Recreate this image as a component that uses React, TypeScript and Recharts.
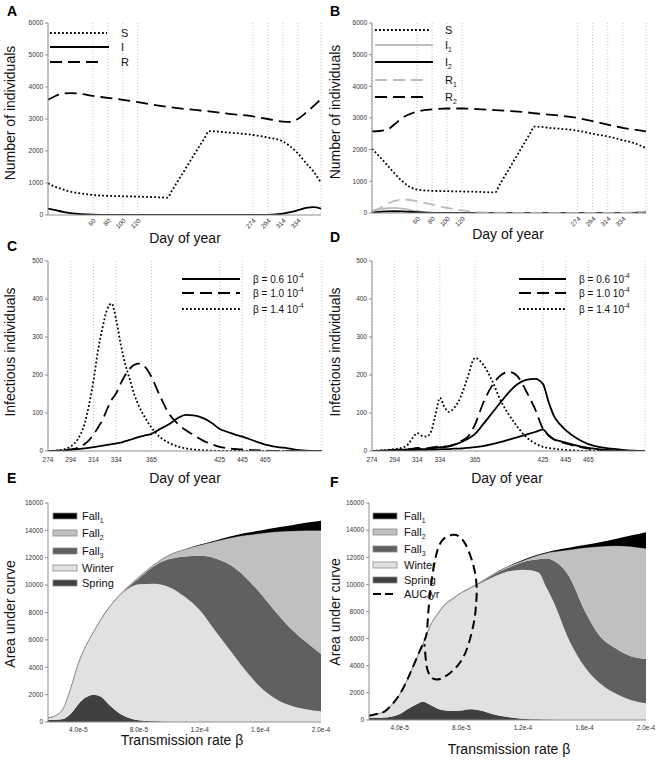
import React from 'react';
import { ComposedChart, Line, Area, XAxis, YAxis, CartesianGrid } from 'recharts';

const FONT = "'Liberation Sans', Arial, Helvetica, sans-serif";
const AXIS = '#8f8f8f';
const GRID = '#c4c4c4';
const DOT = '1.8 2.2';
const DASH = '12 6';
const GRAY = '#bdbdbd';

// ---------- Panel A ----------
const daysA = [0, 10, 20, 30, 45, 60, 80, 100, 120, 140, 160, 165, 185, 200, 210, 215, 240, 274, 294, 314, 324, 334, 345, 355, 365];
const susA = [990, 880, 800, 730, 670, 625, 600, 585, 575, 560, 545, 735, 1490, 2060, 2430, 2620, 2580, 2500, 2420, 2300, 2140, 1930, 1620, 1360, 1010];
const infA = [200, 150, 100, 60, 25, 8, 2, 0, 0, 0, 0, 0, 0, 0, 0, 0, 0, 0, 5, 40, 90, 150, 220, 245, 200];
const recA = [3600, 3720, 3790, 3810, 3780, 3720, 3660, 3600, 3530, 3450, 3380, 3365, 3310, 3275, 3250, 3240, 3170, 3080, 3000, 2920, 2910, 3000, 3200, 3400, 3620];

// ---------- Panel B ----------
const daysB = [0, 10, 20, 30, 40, 50, 60, 80, 100, 120, 140, 164, 170, 190, 205, 212, 216, 240, 274, 294, 314, 334, 350, 365];
const susB = [2030, 1780, 1520, 1250, 1010, 830, 740, 700, 690, 680, 670, 650, 890, 1690, 2290, 2570, 2730, 2680, 2600, 2500, 2420, 2300, 2200, 2050];
const i1B = [60, 110, 150, 160, 140, 100, 60, 15, 3, 0, 0, 0, 0, 0, 0, 0, 0, 0, 0, 0, 0, 0, 10, 40];
const i2B = [20, 35, 50, 55, 50, 40, 25, 5, 0, 0, 0, 0, 0, 0, 0, 0, 0, 0, 0, 0, 0, 0, 5, 10];
const r1B = [50, 150, 280, 380, 420, 410, 370, 270, 160, 80, 30, 10, 8, 3, 1, 0, 0, 0, 0, 0, 0, 5, 20, 50];
const r2B = [2580, 2590, 2630, 2800, 3000, 3120, 3200, 3270, 3300, 3300, 3280, 3250, 3240, 3210, 3180, 3165, 3150, 3100, 3000, 2900, 2790, 2690, 2630, 2580];

const dayTicksAB = [60, 80, 100, 120, 274, 294, 314, 334];

// ---------- Panels C, D ----------
const daysCD = [274, 284, 294, 300, 306, 310, 314, 318, 322, 326, 330, 334, 338, 342, 346, 350, 354, 358, 365, 372, 380, 388, 395, 402, 410, 418, 425, 430, 435, 440, 445, 455, 465, 475, 485, 495, 505, 515];
const cHigh = [0, 2, 12, 30, 70, 120, 185, 265, 325, 372, 388, 345, 280, 228, 188, 148, 118, 95, 62, 38, 22, 12, 7, 4, 2, 1, 0, 0, 0, 0, 0, 0, 0, 0, 0, 0, 0, 0];
const cMid = [0, 1, 4, 8, 18, 28, 43, 62, 82, 110, 135, 152, 178, 200, 217, 227, 230, 225, 195, 148, 100, 72, 55, 42, 28, 18, 11, 8, 6, 5, 4, 2, 1, 0, 0, 0, 0, 0];
const cLow = [0, 1, 3, 5, 7, 8, 10, 12, 14, 16, 18, 20, 22, 26, 29, 33, 37, 40, 45, 57, 70, 86, 95, 94, 87, 74, 58, 52, 47, 42, 38, 27, 17, 11, 7, 2, 0, 0];
const dHigh = [0, 2, 5, 8, 18, 35, 47, 40, 38, 50, 95, 140, 115, 103, 112, 128, 155, 190, 245, 228, 185, 130, 95, 65, 37, 20, 11, 8, 6, 4, 3, 1, 0, 0, 0, 0, 0, 0];
const dMid = [0, 1, 3, 4, 5, 6, 8, 7, 7, 9, 11, 13, 12, 13, 16, 22, 28, 36, 70, 125, 172, 200, 208, 198, 158, 110, 58, 42, 30, 24, 20, 12, 6, 3, 1, 0, 0, 0];
const dLow = [0, 1, 2, 3, 4, 5, 7, 5, 5, 6, 8, 10, 10, 12, 16, 20, 25, 31, 45, 70, 100, 130, 155, 175, 187, 190, 176, 128, 90, 70, 55, 33, 18, 10, 6, 3, 1, 0];
const dLow2 = [0, 0, 1, 1, 2, 2, 3, 3, 3, 4, 4, 5, 5, 5, 6, 6, 7, 8, 10, 13, 18, 24, 30, 36, 43, 50, 56, 40, 30, 26, 22, 14, 8, 4, 2, 0, 0, 0];
const dayTicksCD = [274, 294, 314, 334, 365, 425, 445, 465];

// ---------- Panel E ----------
const betaE = [2.0e-5, 2.5e-5, 3.0e-5, 3.5e-5, 4.0e-5, 4.5e-5, 5.0e-5, 5.5e-5, 6.0e-5, 6.5e-5, 7.0e-5, 8.0e-5, 9.0e-5, 1.0e-4, 1.1e-4, 1.2e-4, 1.3e-4, 1.4e-4, 1.5e-4, 1.6e-4, 1.7e-4, 1.8e-4, 1.9e-4, 2.0e-4];
const springE = [150, 170, 220, 600, 1300, 1800, 2000, 1850, 1300, 800, 450, 120, 50, 20, 5, 0, 0, 0, 0, 0, 0, 0, 0, 0];
const winterE = [130, 270, 730, 1850, 2950, 3750, 4550, 5650, 7000, 8150, 9050, 9940, 10050, 9830, 9155, 8180, 6700, 5250, 3800, 2560, 1700, 1200, 930, 780];
const fall3E = [20, 20, 20, 20, 20, 20, 20, 20, 30, 40, 60, 440, 1300, 2050, 2940, 3960, 5270, 6230, 6800, 6840, 6360, 5640, 4930, 4180];
const fall2E = [10, 10, 10, 10, 10, 10, 10, 10, 10, 20, 30, 100, 100, 300, 500, 780, 1220, 1970, 3040, 4380, 5840, 7110, 8140, 9040];
const fall1E = [0, 0, 0, 0, 0, 0, 0, 0, 0, 0, 0, 0, 0, 0, 0, 30, 60, 100, 160, 220, 300, 400, 550, 700];

// ---------- Panel F ----------
const betaF = [2.0e-5, 2.5e-5, 3.0e-5, 3.5e-5, 4.0e-5, 4.5e-5, 5.0e-5, 5.5e-5, 6.0e-5, 6.5e-5, 7.0e-5, 7.5e-5, 8.0e-5, 8.5e-5, 9.0e-5, 1.0e-4, 1.1e-4, 1.2e-4, 1.3e-4, 1.35e-4, 1.4e-4, 1.5e-4, 1.6e-4, 1.7e-4, 1.8e-4, 1.9e-4, 2.0e-4];
const springF = [150, 160, 180, 260, 450, 800, 1100, 1350, 1100, 820, 700, 680, 700, 790, 760, 450, 220, 100, 50, 30, 20, 0, 0, 0, 0, 0, 0];
const winterF = [150, 270, 420, 870, 1430, 2160, 3160, 4190, 5840, 7020, 7840, 8260, 8640, 8850, 9180, 10050, 10730, 10980, 10850, 9820, 8680, 5900, 3940, 2710, 1970, 1480, 1230];
const fall3F = [10, 10, 10, 10, 10, 20, 20, 30, 30, 30, 30, 30, 30, 30, 30, 150, 250, 570, 950, 2050, 3050, 4700, 4160, 3490, 3330, 3220, 3270];
const fall2F = [10, 10, 10, 10, 10, 20, 20, 30, 30, 30, 30, 30, 30, 30, 30, 50, 100, 100, 300, 400, 650, 1950, 4600, 6600, 7550, 8100, 8150];
const fall1F = [0, 0, 0, 0, 0, 0, 0, 0, 0, 0, 0, 0, 0, 0, 0, 0, 0, 50, 50, 50, 100, 150, 200, 300, 500, 800, 1200];
const aucBeta = [2.0e-5, 2.5e-5, 3.0e-5, 3.5e-5, 4.0e-5, 4.5e-5, 5.0e-5, 5.5e-5, 5.75e-5, 5.85e-5, 6.05e-5, 6.35e-5, 6.8e-5, 7.5e-5, 7.95e-5, 8.3e-5, 8.65e-5, 8.9e-5, 9.0e-5, 8.95e-5, 8.8e-5, 8.35e-5, 7.8e-5, 7.25e-5, 6.6e-5, 6.1e-5, 5.8e-5, 5.68e-5, 5.6e-5];
const aucVal = [320, 450, 620, 1150, 1900, 3000, 4300, 5600, 6400, 7900, 10100, 12100, 13300, 13650, 13450, 12900, 11900, 10800, 9600, 8400, 7100, 5200, 4060, 3450, 3020, 3100, 3700, 4600, 5600];
const betaTicks = [4e-5, 8e-5, 1.2e-4, 1.6e-4, 2e-4];
const betaTickLabels = ['4.0e-5', '8.0e-5', '1.2e-4', '1.6e-4', '2.0e-4'];

const rowsOf = (xKey: string, xs: number[], cols: Record<string, number[]>) =>
  xs.map((x, i) => {
    const r: Record<string, number> = { [xKey]: x };
    Object.keys(cols).forEach((k) => { r[k] = cols[k][i]; });
    return r;
  });

const rowsA = rowsOf('day', daysA, { S: susA, I: infA, R: recA });
const rowsB = rowsOf('day', daysB, { S: susB, I1: i1B, I2: i2B, R1: r1B, R2: r2B });
const rowsC = rowsOf('day', daysCD, { lo: cLow, mid: cMid, hi: cHigh });
const rowsD = rowsOf('day', daysCD, { lo: dLow, lo2: dLow2, mid: dMid, hi: dHigh });
const rowsE = rowsOf('beta', betaE, { spring: springE, winter: winterE, fall3: fall3E, fall2: fall2E, fall1: fall1E });
const rowsF = rowsOf('beta', betaF, { spring: springF, winter: winterF, fall3: fall3F, fall2: fall2F, fall1: fall1F });
const rowsAuc = rowsOf('beta', aucBeta, { auc: aucVal });

const betaFmt = (v: number) => {
  const i = betaTicks.findIndex((t) => Math.abs(t - v) < 1e-9);
  return i >= 0 ? betaTickLabels[i] : String(v);
};

const YW = 30;
const XH = 25;
const tickFont = { fontSize: 6.5, fill: '#333', fontFamily: FONT };

type PanelProps = {
  left: number; top: number; width: number; height: number; plot: number[];
  rows: any[]; xKey: string; xDomain: number[]; xTicks: number[];
  xFmt?: (v: number) => string; rotate?: boolean; xMargin: number;
  yDomain: number[]; yTicks: number[]; grid?: boolean; children: React.ReactNode;
};

function Panel(p: PanelProps) {
  const [x0, y0, x1, y1] = p.plot;
  const margin = {
    left: x0 - p.left - YW,
    top: y0 - p.top,
    right: p.left + p.width - x1,
    bottom: p.top + p.height - y1 - XH,
  };
  const xt = p.rotate ? { ...tickFont, angle: -45, textAnchor: 'end' } : tickFont;
  return (
    <div style={{ position: 'absolute', left: p.left, top: p.top, width: p.width, height: p.height }}>
      <ComposedChart width={p.width} height={p.height} data={p.rows} margin={margin}>
        {p.grid && <CartesianGrid horizontal={false} stroke={GRID} strokeDasharray="1 2" />}
        <XAxis dataKey={p.xKey} type="number" domain={p.xDomain} ticks={p.xTicks} interval={0}
          allowDataOverflow height={XH} stroke={AXIS} tickLine={false} tickSize={0}
          tickMargin={p.xMargin} tickFormatter={p.xFmt} tick={xt as any} />
        <XAxis xAxisId="top" orientation="top" dataKey={p.xKey} type="number" domain={p.xDomain}
          allowDataOverflow height={0} stroke={AXIS} tick={false} tickLine={false} />
        <YAxis type="number" domain={p.yDomain} ticks={p.yTicks} interval={0} width={YW}
          stroke={AXIS} tickSize={3} tickMargin={2} tick={tickFont} allowDataOverflow />
        <YAxis yAxisId="right" orientation="right" type="number" domain={p.yDomain} width={0}
          stroke={AXIS} tick={false} tickLine={false} />
        {p.children}
      </ComposedChart>
    </div>
  );
}

const line = (key: string, color: string, dash?: string, w = 1.8, data?: any[], type: any = 'monotone') => (
  <Line key={key} data={data} dataKey={key} type={type} stroke={color} strokeWidth={w}
    strokeDasharray={dash} dot={false} activeDot={false} isAnimationActive={false} />
);

const area = (key: string, fill: string, stroke = 'none', sw = 0) => (
  <Area key={key} dataKey={key} stackId="auc" type="monotone" fill={fill} fillOpacity={1}
    stroke={stroke} strokeWidth={sw} dot={false} activeDot={false} isAnimationActive={false} />
);

const AREA_COLORS = { fall1: '#000000', fall2: '#c0c0c0', fall3: '#606060', winter: '#e1e1e1', spring: '#404040' };
const areaLegend = [
  { base: 'Fall', sub: '1', fill: AREA_COLORS.fall1 },
  { base: 'Fall', sub: '2', fill: AREA_COLORS.fall2 },
  { base: 'Fall', sub: '3', fill: AREA_COLORS.fall3 },
  { base: 'Winter', sub: '', fill: AREA_COLORS.winter },
  { base: 'Spring', sub: '', fill: AREA_COLORS.spring },
];
const betaLegend = [
  { label: '\u03b2 = 0.6 10', dash: undefined },
  { label: '\u03b2 = 1.0 10', dash: DASH },
  { label: '\u03b2 = 1.4 10', dash: DOT },
];

function YTitle({ x, y, text }: { x: number; y: number; text: string }) {
  return (
    <text transform={`translate(${x},${y}) rotate(-90)`} textAnchor="middle" dominantBaseline="central" fontSize={14} fill="#111">
      {text}
    </text>
  );
}
function XTitle({ x, y, text }: { x: number; y: number; text: string }) {
  return (
    <text x={x} y={y} textAnchor="middle" dominantBaseline="central" fontSize={14} fill="#111">{text}</text>
  );
}
function SubText({ x, y, base, sub, fs = 11 }: { x: number; y: number; base: string; sub?: string; fs?: number }) {
  return (
    <text x={x} y={y} dominantBaseline="central" fontSize={fs} fill="#111">
      {base}
      {sub ? <tspan fontSize={fs * 0.62} dy={fs * 0.32}>{sub}</tspan> : null}
    </text>
  );
}

function Overlay() {
  const letters = [
    { t: 'A', x: 7, y: 16 }, { t: 'B', x: 330, y: 16 },
    { t: 'C', x: 7, y: 251 }, { t: 'D', x: 330, y: 242 },
    { t: 'E', x: 7, y: 483 }, { t: 'F', x: 330, y: 487 },
  ];
  const eRows = [516, 533, 551, 568, 583];
  const fRows = [516, 532, 549, 565, 580];
  return (
    <svg width={661} height={761} style={{ position: 'absolute', left: 0, top: 0, pointerEvents: 'none' }} fontFamily={FONT}>
      {letters.map((l) => (
        <text key={l.t} x={l.x} y={l.y} fontSize={14} fontWeight="bold" fill="#000">{l.t}</text>
      ))}
      <YTitle x={10} y={113} text="Number of individuals" />
      <YTitle x={335} y={112} text="Number of individuals" />
      <YTitle x={10} y={352} text="Infectious individuals" />
      <YTitle x={335} y={352} text="Infectious individuals" />
      <YTitle x={10} y={614} text="Area under curve" />
      <YTitle x={335} y={612} text="Area under curve" />
      <XTitle x={185} y={238} text="Day of year" />
      <XTitle x={508} y={234} text="Day of year" />
      <XTitle x={185} y={478} text="Day of year" />
      <XTitle x={507} y={478} text="Day of year" />
      <XTitle x={182} y={740} text={'Transmission rate \u03b2'} />
      <XTitle x={509} y={749} text={'Transmission rate \u03b2'} />

      {/* Legend A */}
      <line x1={50} x2={107} y1={33} y2={33} stroke="#000" strokeWidth={1.8} strokeDasharray={DOT} />
      <line x1={50} x2={109} y1={47} y2={47} stroke="#000" strokeWidth={1.8} />
      <line x1={50} x2={104} y1={62} y2={62} stroke="#000" strokeWidth={1.8} strokeDasharray={DASH} />
      <SubText x={121} y={33} base="S" />
      <SubText x={121} y={47} base="I" />
      <SubText x={121} y={62} base="R" />

      {/* Legend B */}
      <line x1={375} x2={430} y1={30} y2={30} stroke="#000" strokeWidth={1.8} strokeDasharray={DOT} />
      <line x1={375} x2={433} y1={45} y2={45} stroke={GRAY} strokeWidth={1.8} />
      <line x1={375} x2={433} y1={62} y2={62} stroke="#000" strokeWidth={1.8} />
      <line x1={375} x2={428} y1={80} y2={80} stroke={GRAY} strokeWidth={1.8} strokeDasharray={DASH} />
      <line x1={375} x2={428} y1={97} y2={97} stroke="#000" strokeWidth={1.8} strokeDasharray={DASH} />
      <SubText x={445} y={30} base="S" />
      <SubText x={445} y={45} base="I" sub="1" />
      <SubText x={445} y={62} base="I" sub="2" />
      <SubText x={445} y={80} base="R" sub="1" />
      <SubText x={445} y={97} base="R" sub="2" />

      {/* Legends C, D */}
      {betaLegend.map((b, i) => {
        const y = [279, 293, 309][i];
        return (
          <g key={'c' + i}>
            <line x1={182} x2={240} y1={y} y2={y} stroke="#000" strokeWidth={1.8} strokeDasharray={b.dash} />
            <text x={253} y={y} dominantBaseline="central" fontSize={10} fill="#111">
              {b.label}<tspan fontSize={6.5} dy={-4}>-4</tspan>
            </text>
            <line x1={519} x2={566} y1={y} y2={y} stroke="#000" strokeWidth={1.8} strokeDasharray={b.dash} />
            <text x={579} y={y} dominantBaseline="central" fontSize={10} fill="#111">
              {b.label}<tspan fontSize={6.5} dy={-4}>-4</tspan>
            </text>
          </g>
        );
      })}

      {/* Legend E */}
      {areaLegend.map((a, i) => (
        <g key={'e' + i}>
          <rect x={53} y={eRows[i] - 3} width={24} height={6} fill={a.fill} stroke="#8a8a8a" strokeWidth={0.8} />
          <SubText x={82} y={eRows[i]} base={a.base} sub={a.sub} />
        </g>
      ))}
      {/* Legend F */}
      {areaLegend.map((a, i) => (
        <g key={'f' + i}>
          <rect x={373} y={fRows[i] - 3} width={24} height={6} fill={a.fill} stroke="#8a8a8a" strokeWidth={0.8} />
          <SubText x={404} y={fRows[i]} base={a.base} sub={a.sub} />
        </g>
      ))}
      <line x1={373} x2={397} y1={594} y2={594} stroke="#000" strokeWidth={2} strokeDasharray="8 4" />
      <SubText x={404} y={594} base="AUC/yr" />
    </svg>
  );
}

export default function App() {
  return (
    <div style={{ position: 'absolute', left: 0, top: 0, width: 661, height: 761, background: '#fff', fontFamily: FONT }}>
      <Panel left={0} top={0} width={330} height={250} plot={[48, 23, 321, 215]} rows={rowsA} xKey="day"
        xDomain={[0, 365]} xTicks={dayTicksAB} rotate xMargin={3} yDomain={[0, 6000]}
        yTicks={[0, 1000, 2000, 3000, 4000, 5000, 6000]} grid>
        {line('S', '#000', DOT)}
        {line('I', '#000')}
        {line('R', '#000', DASH)}
      </Panel>
      <Panel left={330} top={0} width={331} height={250} plot={[372, 23, 646, 213]} rows={rowsB} xKey="day"
        xDomain={[0, 365]} xTicks={dayTicksAB} rotate xMargin={3} yDomain={[0, 6000]}
        yTicks={[0, 1000, 2000, 3000, 4000, 5000, 6000]} grid>
        {line('S', '#000', DOT)}
        {line('I1', GRAY)}
        {line('I2', '#000')}
        {line('R1', GRAY, DASH)}
        {line('R2', '#000', DASH)}
      </Panel>
      <Panel left={0} top={250} width={330} height={240} plot={[48, 261, 322, 451]} rows={rowsC} xKey="day"
        xDomain={[274, 515]} xTicks={dayTicksCD} xMargin={6.5} yDomain={[0, 500]}
        yTicks={[0, 100, 200, 300, 400, 500]} grid>
        {line('lo', '#000')}
        {line('mid', '#000', DASH)}
        {line('hi', '#000', DOT)}
      </Panel>
      <Panel left={330} top={250} width={331} height={240} plot={[372, 261, 645, 451]} rows={rowsD} xKey="day"
        xDomain={[274, 515]} xTicks={dayTicksCD} xMargin={6.5} yDomain={[0, 500]}
        yTicks={[0, 100, 200, 300, 400, 500]} grid>
        {line('lo2', '#000')}
        {line('lo', '#000')}
        {line('mid', '#000', DASH)}
        {line('hi', '#000', DOT)}
      </Panel>
      <Panel left={0} top={495} width={345} height={266} plot={[48, 503, 321, 722]} rows={rowsE} xKey="beta"
        xDomain={[2e-5, 2e-4]} xTicks={betaTicks} xFmt={betaFmt} xMargin={5.5} yDomain={[0, 16000]}
        yTicks={[0, 2000, 4000, 6000, 8000, 10000, 12000, 14000, 16000]}>
        {area('spring', AREA_COLORS.spring)}
        {area('winter', AREA_COLORS.winter)}
        {area('fall3', AREA_COLORS.fall3)}
        {area('fall2', AREA_COLORS.fall2, '#8a8a8a', 1)}
        {area('fall1', AREA_COLORS.fall1)}
      </Panel>
      <Panel left={330} top={495} width={331} height={266} plot={[369, 503, 646, 720]} rows={rowsF} xKey="beta"
        xDomain={[2e-5, 2e-4]} xTicks={betaTicks} xFmt={betaFmt} xMargin={5.5} yDomain={[0, 16000]}
        yTicks={[0, 2000, 4000, 6000, 8000, 10000, 12000, 14000, 16000]}>
        {area('spring', AREA_COLORS.spring)}
        {area('winter', AREA_COLORS.winter)}
        {area('fall3', AREA_COLORS.fall3)}
        {area('fall2', AREA_COLORS.fall2, '#8a8a8a', 1)}
        {area('fall1', AREA_COLORS.fall1)}
        {line('auc', '#000', '9 5', 2, rowsAuc, 'natural')}
      </Panel>
      <Overlay />
    </div>
  );
}
